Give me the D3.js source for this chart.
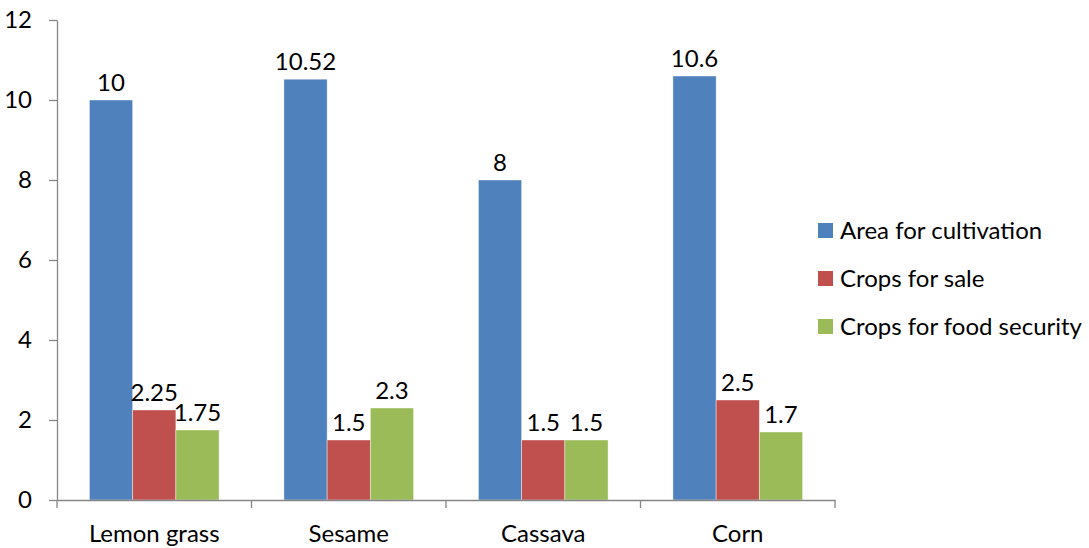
<!DOCTYPE html>
<html><head><meta charset="utf-8">
<script src="https://cdn.jsdelivr.net/npm/d3@7"></script>
<style>body{margin:0;background:#fff}svg{display:block}text{font-family:Lato,"Open Sans",sans-serif;fill:#000}</style>
</head><body><svg id="c" width="1089" height="548"></svg>
<script>
const categories = ["Lemon grass","Sesame","Cassava","Corn"];
const seriesNames = ["Area for cultivation","Crops for sale","Crops for food security"];
const areaForCultivation = [10, 10.52, 8, 10.6];
const cropsForSale = [2.25, 1.5, 1.5, 2.5];
const cropsForFoodSecurity = [1.75, 2.3, 1.5, 1.7];
const yTicks = [0,2,4,6,8,10,12];
const colors = ["#4F81BD","#C0504D","#9BBB59"];
const seriesValues = [areaForCultivation, cropsForSale, cropsForFoodSecurity];

(function(){
const FS = 24;
const svg = d3.select("#c");
const mLeft = 57, mRight = 835, mTop = 20, mBottom = 500;
const x = d3.scaleBand().domain(categories).range([mLeft, mRight]).paddingInner(0).paddingOuter(0);
const bw = x.bandwidth() / 4.5;
const xs = d3.scaleBand().domain(seriesNames).range([0.75*bw, 3.75*bw]);
const y = d3.scaleLinear().domain([0,12]).range([mBottom, mTop]);

const g = svg.append("g");
categories.forEach((c, ci) => {
  seriesNames.forEach((s, si) => {
    const v = seriesValues[si][ci];
    g.append("rect").attr("x", x(c) + xs(s)).attr("y", y(v))
      .attr("width", xs.bandwidth()).attr("height", y(0) - y(v))
      .attr("fill", colors[si]).attr("stroke", "#fff").attr("stroke-opacity", 0.5).attr("stroke-width", 0.8);
    g.append("text").attr("x", x(c) + xs(s) + xs.bandwidth()/2).attr("y", y(v) - 9)
      .attr("text-anchor", "middle").attr("font-size", FS).text(v);
  });
});

const ya = svg.append("g").attr("transform", `translate(${mLeft},0)`)
  .call(d3.axisLeft(y).tickValues(yTicks).tickSize(8).tickSizeOuter(0).tickPadding(17));
ya.select(".domain").attr("stroke", "#868686").attr("stroke-width", 1.3);
ya.selectAll(".tick line").attr("stroke", "#868686").attr("stroke-width", 1.3);
ya.selectAll(".tick text").attr("font-size", FS).attr("font-family", "Lato,sans-serif").attr("fill", "#000");

const xa = svg.append("g").attr("transform", `translate(0,${mBottom})`)
  .call(d3.axisBottom(x).tickSize(0).tickPadding(25));
xa.select(".domain").attr("stroke", "#868686").attr("stroke-width", 1.3);
xa.selectAll(".tick text").attr("font-size", FS).attr("font-family", "Lato,sans-serif").attr("fill", "#000");
const bounds = categories.map(c => x(c)).concat([mRight]);
svg.append("g").selectAll("line").data(bounds).join("line")
  .attr("x1", d => d).attr("x2", d => d).attr("y1", mBottom).attr("y2", mBottom + 8)
  .attr("stroke", "#868686").attr("stroke-width", 1.3);

const lg = svg.append("g");
seriesNames.forEach((s, i) => {
  const yy = 231 + i*48;
  lg.append("rect").attr("x", 818).attr("y", yy - 8).attr("width", 15).attr("height", 15).attr("fill", colors[i]);
  lg.append("text").attr("x", 840).attr("y", yy).attr("dy", "0.35em").attr("font-size", FS).text(s);
});
})();
</script></body></html>
